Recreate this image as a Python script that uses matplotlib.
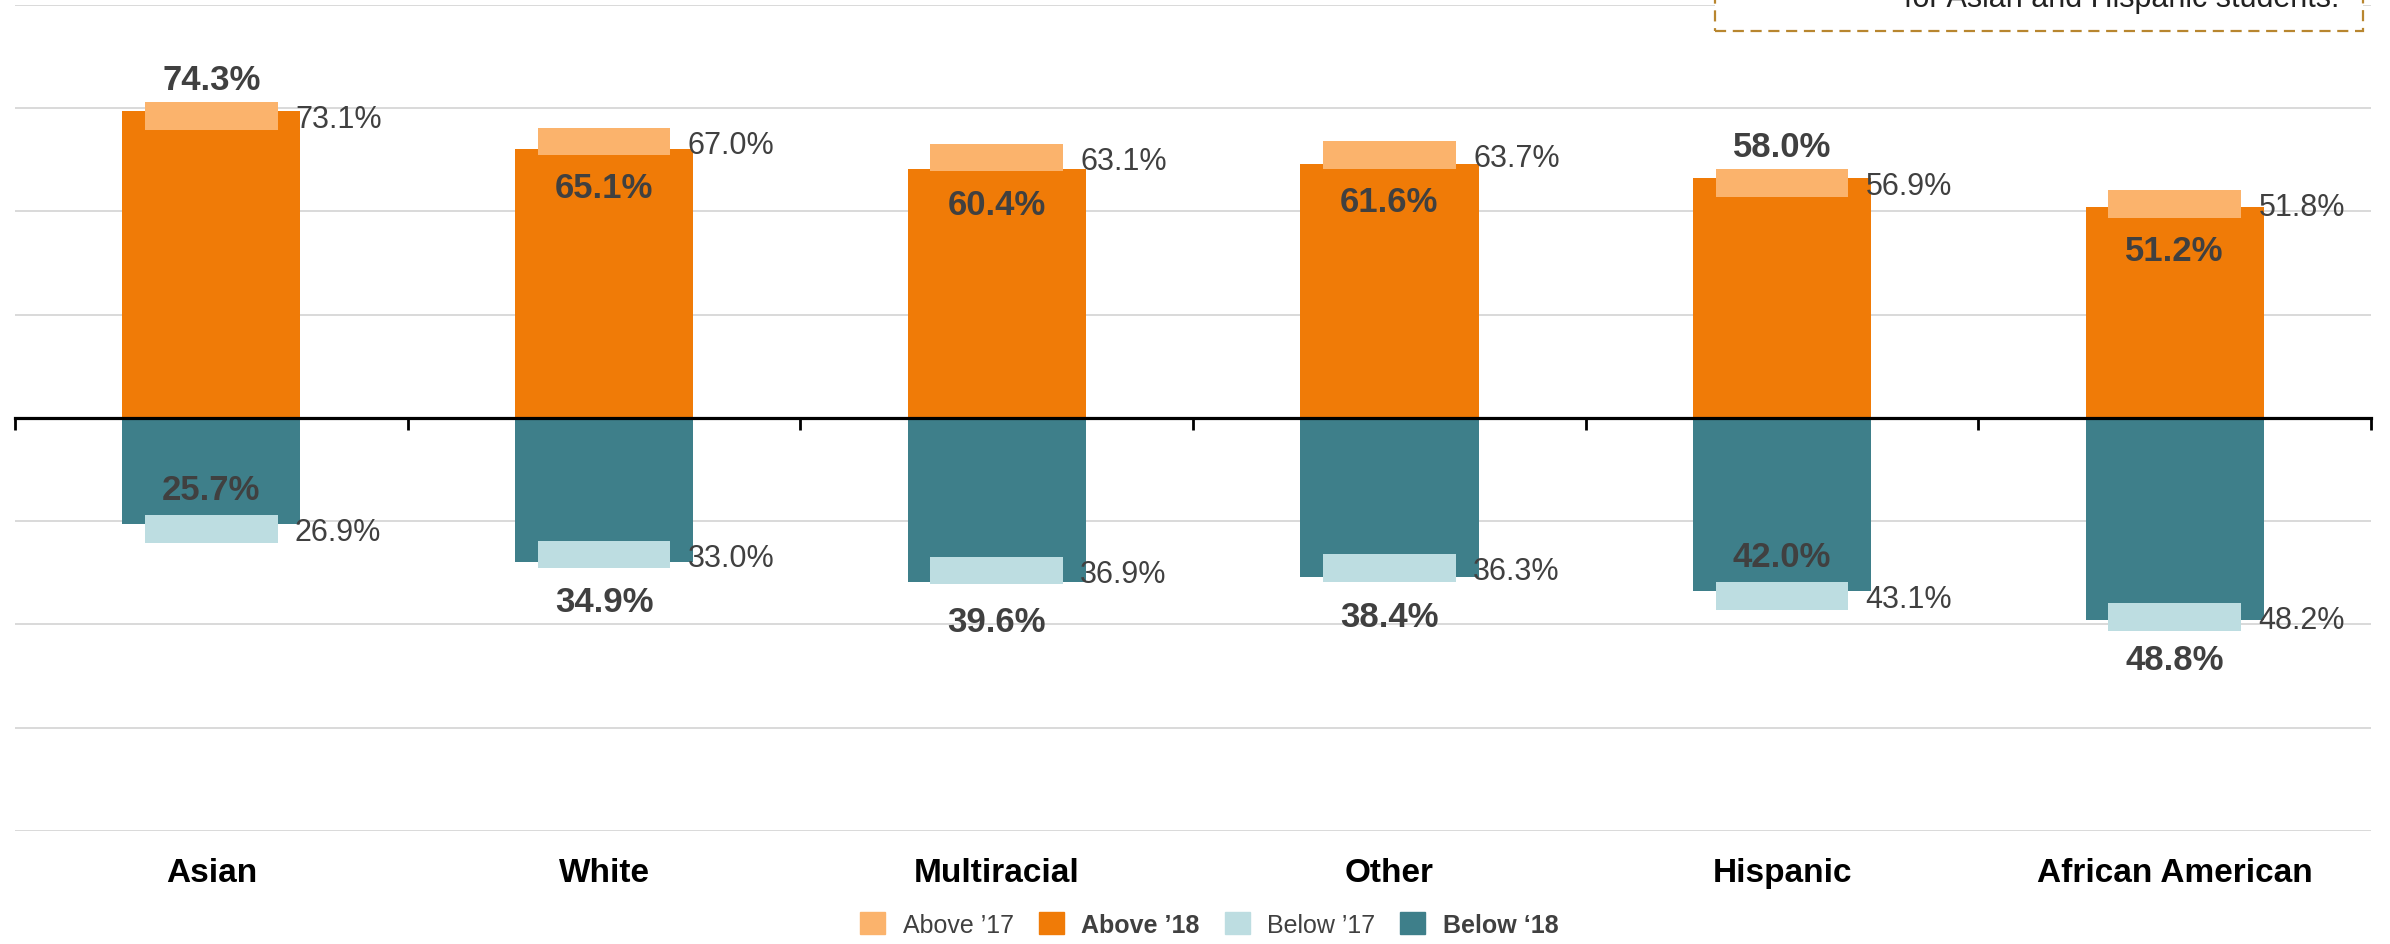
import matplotlib.pyplot as plt
from matplotlib.patches import Patch, Rectangle

plt.rcParams['font.family'] = ['Liberation Sans', 'DejaVu Sans']

groups = ['Asian', 'White', 'Multiracial', 'Other', 'Hispanic', 'African American']
above_18 = [74.3, 65.1, 60.4, 61.6, 58.0, 51.2]
above_17 = [73.1, 67.0, 63.1, 63.7, 56.9, 51.8]
below_18 = [25.7, 34.9, 39.6, 38.4, 42.0, 48.8]
below_17 = [26.9, 33.0, 36.9, 36.3, 43.1, 48.2]
legend_labels = ['Above \u201917', 'Above \u201918', 'Below \u201917', 'Below \u201818']

c_above18 = '#F07B07'
c_above17 = '#FBB36C'
c_below18 = '#3E7F8A'
c_below17 = '#BDDDE1'
txt = '#404040'

fig = plt.figure(figsize=(23.9, 9.45), dpi=100)
ax = fig.add_axes([0.00628, 0.1196, 0.9858, 0.8741])

x = list(range(len(groups)))
bw = 0.454
mw = 0.338
mh = 6.6

ax.bar(x, above_18, width=bw, color=c_above18, zorder=2)
ax.bar(x, [-v for v in below_18], width=bw, color=c_below18, zorder=2)
ax.bar(x, mh, bottom=[v - mh / 2 for v in above_17], width=mw, color=c_above17, zorder=3)
ax.bar(x, mh, bottom=[-v - mh / 2 for v in below_17], width=mw, color=c_below17, zorder=3)

for i in x:
    # '18 labels (bold), outside when the bar grew, inside otherwise
    if above_18[i] > above_17[i]:
        ya = above_18[i] + 7.7
    else:
        ya = above_17[i] - 11.3
    ax.text(i, ya, f'{above_18[i]:.1f}%', ha='center', va='center',
            fontsize=25, fontweight='bold', color=txt, zorder=5)
    if below_18[i] > below_17[i]:
        yb = -(below_18[i] + 9.6)
    else:
        yb = -(below_17[i] - 9.6)
    ax.text(i, yb, f'{below_18[i]:.1f}%', ha='center', va='center',
            fontsize=25, fontweight='bold', color=txt, zorder=5)
    # '17 labels
    ax.text(i + 0.213, above_17[i] - 0.8, f'{above_17[i]:.1f}%', ha='left', va='center',
            fontsize=22, color=txt, zorder=5)
    ax.text(i + 0.213, -below_17[i] - 0.8, f'{below_17[i]:.1f}%', ha='left', va='center',
            fontsize=22, color=txt, zorder=5)
    ax.text(i, -0.0605, groups[i], transform=ax.get_xaxis_transform(), ha='center',
            va='baseline', fontsize=24, fontweight='bold', color='black')

ax.set_xlim(-0.5, len(groups) - 0.5)
ax.set_ylim(-100, 100)
ax.set_yticks([-100, -75, -50, -25, 25, 50, 75, 100])
ax.yaxis.grid(True, color='#D9D9D9', linewidth=1.4, zorder=0)
ax.set_axisbelow(True)
ax.tick_params(axis='y', length=0, labelleft=False)

for s in ['top', 'right', 'left']:
    ax.spines[s].set_visible(False)
ax.spines['bottom'].set_position(('data', 0))
ax.spines['bottom'].set_linewidth(2.3)
ax.spines['bottom'].set_zorder(4)
ax.set_xticks([i - 0.5 for i in range(len(groups) + 1)])
ax.set_xticklabels([])
ax.tick_params(axis='x', direction='out', length=8.5, width=2.0, color='black')

# note box at top right (mostly cut off)
box = Rectangle((1715 / 2390, 1 - 32 / 945), (2363 - 1715) / 2390, 0.2,
                transform=fig.transFigure, facecolor='white', edgecolor='#B8862F',
                linestyle=(0, (5, 3)), linewidth=1.6, zorder=10)
fig.add_artist(box)
fig.text(2339 / 2390, 1 - 7 / 945, 'for Asian and Hispanic students.', ha='right',
         va='baseline', fontsize=22, color='#222222', zorder=11)

handles = [Patch(color=c) for c in [c_above17, c_above18, c_below17, c_below18]]
leg = fig.legend(handles, legend_labels, loc='center', bbox_to_anchor=(0.506, 0.021),
                 ncol=4, frameon=False, fontsize=18, handlelength=1.0, handleheight=1.0,
                 handletextpad=0.7, columnspacing=1.0)
for i, t in enumerate(leg.get_texts()):
    t.set_color(txt)
    if i in (1, 3):
        t.set_fontweight('bold')

fig.savefig('out.png', dpi=100)
